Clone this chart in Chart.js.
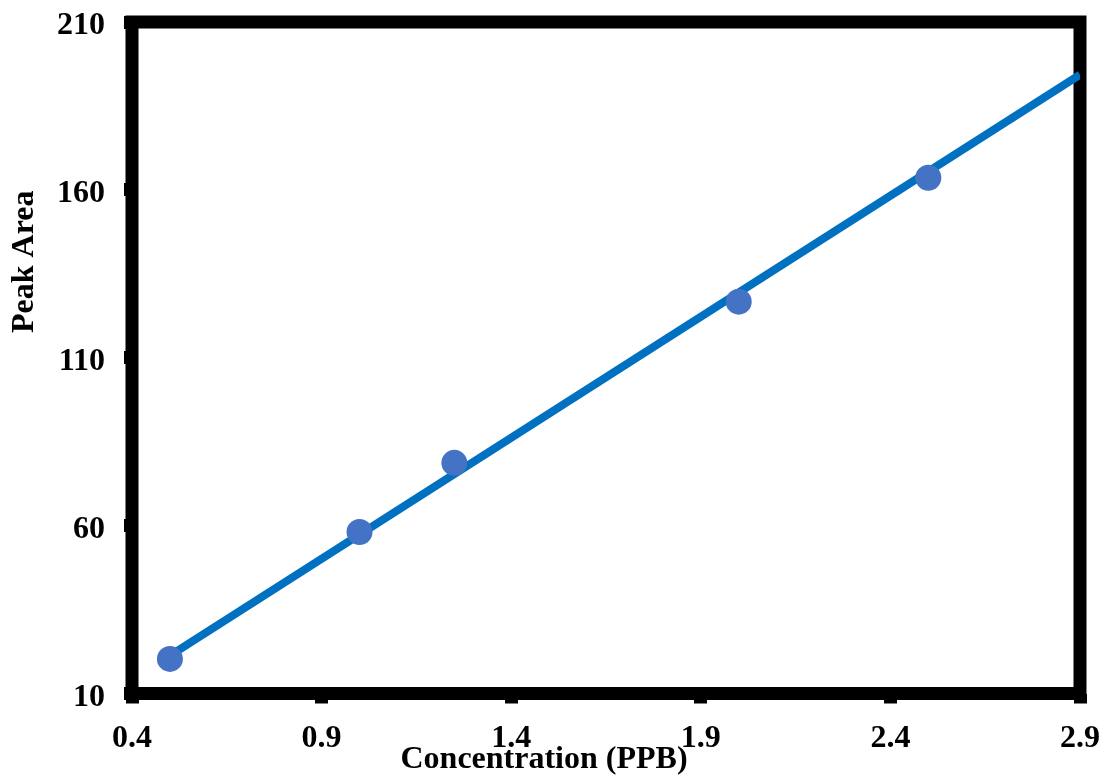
<!DOCTYPE html>
<html>
<head>
<meta charset="utf-8">
<script src="https://cdn.jsdelivr.net/npm/chart.js@4"></script>
<style>
  body { margin: 0; background: #fff; }
  #wrap { width: 1105px; height: 779px; }
</style>
</head>
<body>
<div id="wrap"><canvas id="calib"></canvas></div>
<script>
// calibration standards
const concentration = [0.5, 1.0, 1.25, 2.0, 2.5];
const peakArea = [20.3, 58.1, 78.7, 126.7, 163.6];

// fitted line, drawn across to the right edge
const fitX = [0.5, 2.9];
const fitY = [21.3, 194.3];

const xTicks = [0.4, 0.9, 1.4, 1.9, 2.4, 2.9];
const yTicks = [10, 60, 110, 160, 210];

const serif = 'Liberation Serif, Times New Roman, serif';

// thick black box around the plot area
const framePlugin = {
  id: 'frame',
  beforeDatasetsDraw(chart) {
    const { ctx, chartArea: a } = chart;
    ctx.save();
    ctx.strokeStyle = '#000';
    ctx.lineWidth = 13;
    ctx.lineJoin = 'miter';
    ctx.strokeRect(a.left, a.top, a.right - a.left, a.bottom - a.top);
    ctx.restore();
  }
};

// vertical axis label, sits a bit above the middle of the axis
const yLabelPlugin = {
  id: 'yLabel',
  afterDraw(chart) {
    const { ctx, chartArea: a } = chart;
    ctx.save();
    ctx.translate(24.5, a.top + (a.bottom - a.top) * 0.357);
    ctx.rotate(-Math.PI / 2);
    ctx.font = 'bold 32px ' + serif;
    ctx.fillStyle = '#000';
    ctx.textAlign = 'center';
    ctx.textBaseline = 'middle';
    ctx.fillText('Peak Area', 0, 0);
    ctx.restore();
  }
};

// fixed axis boxes so the plot area lands where we want it
function pinBox(s, size) {
  if (s.isHorizontal()) s.height = size; else s.width = size;
  s.paddingTop = 0;
  s.paddingBottom = 0;
  s.paddingLeft = 0;
  s.paddingRight = 0;
}

const ctx = document.getElementById('calib').getContext('2d');

new Chart(ctx, {
  type: 'scatter',
  data: {
    datasets: [{
      label: 'Standards',
      data: concentration.map((c, i) => ({ x: c, y: peakArea[i] })),
      backgroundColor: '#4472C4',
      borderWidth: 0,
      pointRadius: 13,
      pointHoverRadius: 13
    }, {
      type: 'line',
      label: 'Fit',
      data: fitX.map((c, i) => ({ x: c, y: fitY[i] })),
      borderColor: '#0070C0',
      borderWidth: 8,
      pointRadius: 0,
      fill: false
    }]
  },
  options: {
    responsive: true,
    maintainAspectRatio: false,
    animation: false,
    layout: { padding: { left: 8, right: 25, top: 22, bottom: 0 } },
    plugins: {
      legend: { display: false },
      tooltip: { enabled: false },
      title: {
        // zero-height box so the x-axis labels are not clipped
        display: true,
        position: 'bottom',
        text: 'Concentration (PPB)',
        color: '#000',
        font: { family: serif, size: 32, weight: 'bold' },
        padding: { top: -38.4, bottom: 0 }
      }
    },
    scales: {
      x: {
        type: 'linear',
        min: 0.4,
        max: 2.9,
        afterBuildTicks: s => { s.ticks = xTicks.map(v => ({ value: v })); },
        afterFit: s => pinBox(s, 85.5),
        border: { display: false },
        grid: {
          drawOnChartArea: false,
          tickLength: 10,
          tickWidth: 13,
          tickColor: '#000'
        },
        ticks: {
          padding: 16,
          color: '#000',
          font: { family: serif, size: 32, weight: 'bold' },
          callback: v => v.toFixed(1)
        }
      },
      y: {
        type: 'linear',
        min: 10,
        max: 210,
        afterBuildTicks: s => { s.ticks = yTicks.map(v => ({ value: v })); },
        afterFit: s => pinBox(s, 124),
        border: { display: false },
        grid: {
          drawOnChartArea: false,
          tickLength: 8,
          tickWidth: 13,
          tickColor: '#000'
        },
        ticks: {
          padding: 19,
          labelOffset: 4,
          color: '#000',
          font: { family: serif, size: 32, weight: 'bold' },
          callback: v => String(v)
        }
      }
    }
  },
  plugins: [framePlugin, yLabelPlugin]
});
</script>
</body>
</html>
